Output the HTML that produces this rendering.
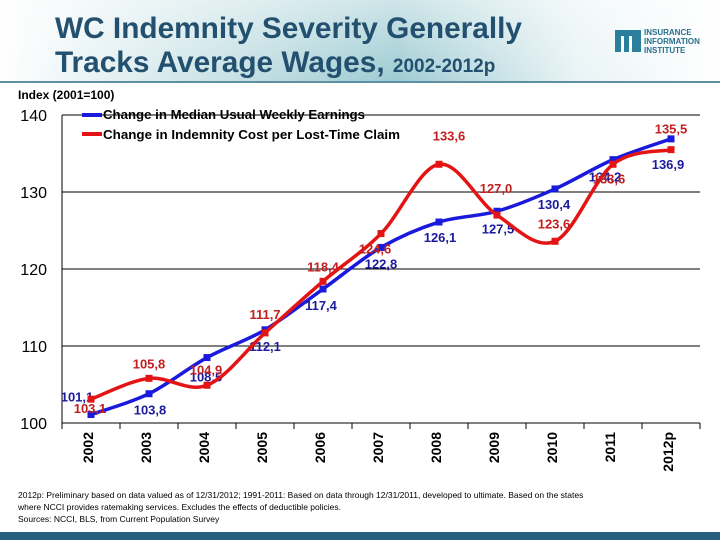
<!DOCTYPE html>
<html><head><meta charset="utf-8"><style>
body{margin:0;width:720px;height:540px;overflow:hidden;background:#fff;font-family:"Liberation Sans",sans-serif;}
svg{position:absolute;left:0;top:0}
</style></head><body>
<svg id="c" width="720" height="540">
<defs>
<linearGradient id="hg" x1="0" x2="1" y1="0" y2="0">
<stop offset="0" stop-color="#ffffff"/><stop offset="0.55" stop-color="#9dcbd2"/><stop offset="0.8" stop-color="#e8f3f5"/><stop offset="1" stop-color="#ffffff"/>
</linearGradient>
<linearGradient id="hv" x1="0" x2="0" y1="0" y2="1">
<stop offset="0" stop-color="#fff" stop-opacity="0.5"/><stop offset="1" stop-color="#fff" stop-opacity="0"/>
</linearGradient>
</defs>
<rect x="0" y="0" width="720" height="82" fill="url(#hg)"/>
<rect x="0" y="0" width="720" height="82" fill="url(#hv)"/>
<rect x="0" y="81" width="720" height="2" fill="#5f8fa3"/>
<text x="55" y="38" font-size="29.8" font-weight="bold" fill="#22506e">WC Indemnity Severity Generally</text>
<text x="55" y="72" font-size="29.8" font-weight="bold" fill="#22506e">Tracks Average Wages, <tspan font-size="19">2002-2012p</tspan></text>
<g>
<rect x="615" y="30" width="26" height="22" fill="#2a7f9c"/>
<rect x="621" y="36" width="3" height="16" fill="#fff"/><rect x="629" y="36" width="3" height="16" fill="#fff"/>
<text x="644" y="35" font-size="8" font-weight="bold" fill="#2a6f8c">INSURANCE</text>
<text x="644" y="44" font-size="8" font-weight="bold" fill="#2a6f8c">INFORMATION</text>
<text x="644" y="53" font-size="8" font-weight="bold" fill="#2a6f8c">INSTITUTE</text>
</g>
<text x="18" y="99" font-size="12" font-weight="bold" fill="#000">Index (2001=100)</text>
<g id="plot"></g>
<text x="18" y="498" font-size="8.5" fill="#000">2012p: Preliminary based on data valued as of 12/31/2012; 1991-2011: Based on data through 12/31/2011, developed to ultimate. Based on the states</text>
<text x="18" y="510" font-size="8.5" fill="#000">where NCCI provides ratemaking services. Excludes the effects of deductible policies.</text>
<text x="18" y="522" font-size="8.5" fill="#000">Sources: NCCI, BLS, from Current Population Survey</text>
<rect x="0" y="532" width="720" height="8" fill="#2a5e7e"/>
</svg>
<script>
const categories=["2002","2003","2004","2005","2006","2007","2008","2009","2010","2011","2012p"];
const wages=[101.1,103.8,108.5,112.1,117.4,122.8,126.1,127.5,130.4,134.2,136.9];
const indemnity=[103.1,105.8,104.9,111.7,118.4,124.6,133.6,127.0,123.6,133.6,135.5];
const yTicks=[100,110,120,130,140];
const wageLabelOff=[[-14,-18],[1,16],[-1,19],[0,16],[-2,16],[0,16],[1,15],[1,17],[-1,15],[-8,17],[-3,25]];
const indLabelOff=[[-1,9],[0,-15],[-1,-16],[0,-19],[0,-15],[-6,15],[10,-29],[-1,-27],[-1,-18],[-4,14],[0,-21]];
const NS="http://www.w3.org/2000/svg";
const L=62,R=700,T=115,B=423,yMin=100,yMax=140;
const bw=(R-L)/categories.length;
const xS=i=>L+bw*(i+0.5);
const yS=v=>B-(v-yMin)/(yMax-yMin)*(B-T);
const g=document.getElementById('plot');
function mk(t,a){const e=document.createElementNS(NS,t);for(const k in a)e.setAttribute(k,a[k]);g.appendChild(e);return e;}
yTicks.forEach(v=>{
 const ln=mk('line',{x1:L,x2:R,y1:yS(v),y2:yS(v),stroke:'#000','stroke-width':1});
 
 
 const t=mk('text',{x:47,y:yS(v)+6,'text-anchor':'end','font-size':16,fill:'#000'});
 t.textContent=v;
 
 
});
const ax=mk('line',{x1:L,x2:L,y1:T,y2:B,stroke:'#000','stroke-width':1});


for(let i=0;i<=categories.length;i++){
 const tk=mk('line',{x1:L+bw*i,x2:L+bw*i,y1:B,y2:B+6,stroke:'#000'});
 
 
}
categories.forEach((c,i)=>{
 const x=xS(i)+2,y=432;
 const t=mk('text',{x:x,y:y,transform:`rotate(-90 ${x} ${y})`,'text-anchor':'end','font-size':14,'font-weight':'bold',fill:'#000'});
 t.textContent=c;
 
 
});
function smooth(vals){
 const p=vals.map((v,i)=>[xS(i),yS(v)]);
 let d=`M${p[0][0]},${p[0][1]}`;
 for(let i=0;i<p.length-1;i++){
  const p0=p[i-1]||p[i],p1=p[i],p2=p[i+1],p3=p[i+2]||p2;
  const k=1/6;
  d+=` C${p1[0]+(p2[0]-p0[0])*k},${p1[1]+(p2[1]-p0[1])*k} ${p2[0]-(p3[0]-p1[0])*k},${p2[1]-(p3[1]-p1[1])*k} ${p2[0]},${p2[1]}`;
 }
 return d;
}
function series(vals,color,name,offs,lcolor){
 const pth=mk('path',{d:smooth(vals),fill:'none',stroke:color,'stroke-width':3.5});
 
 
 vals.forEach((v,i)=>{
  const m=mk('rect',{x:xS(i)-3.5,y:yS(v)-3.5,width:7,height:7,fill:color});
  
  
 });
 vals.forEach((v,i)=>{
  const t=mk('text',{x:xS(i)+offs[i][0],y:yS(v)+offs[i][1]+5,'text-anchor':'middle','font-size':13,'font-weight':'bold',fill:lcolor});
  t.textContent=v.toFixed(1).replace('.',',');
  
  
 });
}
series(wages,'#1a1adc','wages',wageLabelOff,'#1b1b9e');
series(indemnity,'#e41414','indemnity',indLabelOff,'#c02020');
const l1=mk('line',{x1:82,x2:102,y1:115,y2:115,stroke:'#1a1adc','stroke-width':4});


const t1=mk('text',{x:103,y:119,'font-size':13,'font-weight':'bold',fill:'#000',textLength:262,lengthAdjust:'spacingAndGlyphs'});
t1.textContent='Change in Median Usual Weekly Earnings';


const l2=mk('line',{x1:82,x2:102,y1:134,y2:134,stroke:'#e41414','stroke-width':4});


const t2=mk('text',{x:103,y:139,'font-size':13,'font-weight':'bold',fill:'#000',textLength:297,lengthAdjust:'spacingAndGlyphs'});
t2.textContent='Change in Indemnity Cost per Lost-Time Claim';


</script>
</body></html>
